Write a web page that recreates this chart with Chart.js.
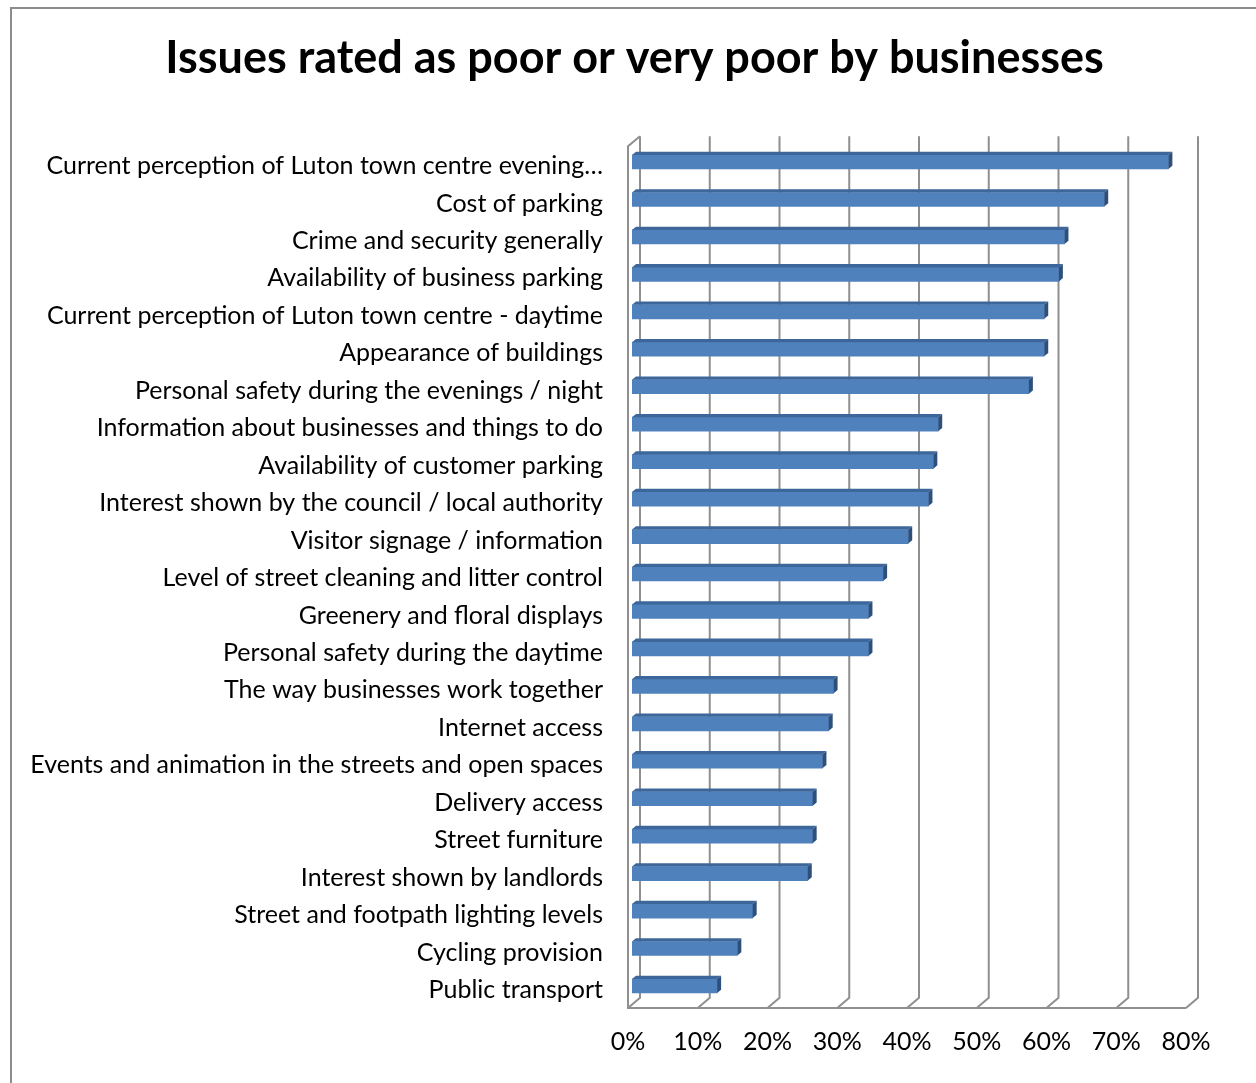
<!DOCTYPE html>
<html>
<head>
    <title>Issues rated as poor or very poor by businesses</title>
    <script src="https://cdn.jsdelivr.net/npm/chart.js"></script>
    <style>
        body {
            margin: 0;
            background: #fff;
            overflow: hidden;
        }
        #wrap {
            position: relative;
            width: 1256px;
            height: 1083px;
        }
        #frame {
            position: absolute;
            left: 10px;
            top: 7px;
            width: 1300px;
            height: 1200px;
            border: 2px solid #8c8c8c;
            pointer-events: none;
        }
    </style>
</head>
<body>
    <div id="wrap">
        <canvas id="issuesChart" width="1256" height="1083"></canvas>
        <div id="frame"></div>
    </div>

    <script>
    const issues = [
        'Current perception of Luton town centre evening\u2026',
        'Cost of parking',
        'Crime and security generally',
        'Availability of business parking',
        'Current perception of Luton town centre - daytime',
        'Appearance of buildings',
        'Personal safety during the evenings / night',
        'Information about businesses and things to do',
        'Availability of customer parking',
        'Interest shown by the council / local authority',
        'Visitor signage / information',
        'Level of street cleaning and litter control',
        'Greenery and floral displays',
        'Personal safety during the daytime',
        'The way businesses work together',
        'Internet access',
        'Events and animation in the streets and open spaces',
        'Delivery access',
        'Street furniture',
        'Interest shown by landlords',
        'Street and footpath lighting levels',
        'Cycling provision',
        'Public transport'
    ];
    // % of businesses rating each issue poor or very poor
    const poorShare = [76.9, 67.7, 62.0, 61.2, 59.1, 59.1, 56.9, 43.9, 43.2, 42.5, 39.6, 36.0,
                       33.9, 33.9, 28.9, 28.2, 27.3, 25.9, 25.9, 25.2, 17.3, 15.1, 12.2];
    const xTicks = [0, 10, 20, 30, 40, 50, 60, 70, 80];

    const fontFamily = 'Lato, "Noto Sans", sans-serif';

    // fake excel-style 3D: back wall gridlines, floor, bar top and end faces
    const threeD = {
        id: 'threeD',
        beforeDatasetsDraw(chart) {
            const { ctx, chartArea: a, scales: { x } } = chart;
            ctx.save();
            ctx.strokeStyle = '#8f8f8f';
            ctx.lineWidth = 2;
            ctx.beginPath();
            xTicks.forEach(v => {
                const px = x.getPixelForValue(v);
                ctx.moveTo(px + 8, a.top - 7);
                ctx.lineTo(px + 8, a.bottom - 7);
                ctx.lineTo(px - 4, a.bottom + 3.3);
            });
            const x0 = x.getPixelForValue(xTicks[0]) - 4;
            const x1 = x.getPixelForValue(xTicks[xTicks.length - 1]) - 4;
            ctx.moveTo(x0 + 12, a.top - 7);
            ctx.lineTo(x0, a.top + 3);
            ctx.lineTo(x0, a.bottom + 3.3);
            ctx.lineTo(x1, a.bottom + 3.3);
            ctx.stroke();
            ctx.restore();
        },
        afterDatasetsDraw(chart) {
            const ctx = chart.ctx;
            const dx = 4, dy = 3.3;
            ctx.save();
            chart.getDatasetMeta(0).data.forEach(bar => {
                const { x, y, base, height } = bar.getProps(['x', 'y', 'base', 'height'], true);
                const top = y - height / 2, bottom = y + height / 2;
                // top face
                ctx.fillStyle = '#3d679a';
                ctx.beginPath();
                ctx.moveTo(base, top);
                ctx.lineTo(base + dx, top - dy);
                ctx.lineTo(x + dx, top - dy);
                ctx.lineTo(x, top);
                ctx.closePath();
                ctx.fill();
                // end face
                ctx.fillStyle = '#2d4f7c';
                ctx.beginPath();
                ctx.moveTo(x, top);
                ctx.lineTo(x + dx, top - dy);
                ctx.lineTo(x + dx, bottom - dy);
                ctx.lineTo(x, bottom);
                ctx.closePath();
                ctx.fill();
            });
            ctx.restore();
        }
    };

    new Chart(document.getElementById('issuesChart'), {
        type: 'bar',
        data: {
            labels: issues,
            datasets: [{
                data: poorShare,
                backgroundColor: '#4f81bd',
                borderWidth: 0,
                barThickness: 14
            }]
        },
        options: {
            indexAxis: 'y',
            responsive: false,
            animation: false,
            layout: {
                padding: { left: 13, right: 0 }
            },
            plugins: {
                legend: { display: false },
                tooltip: { enabled: false },
                title: {
                    display: true,
                    text: 'Issues rated as poor or very poor by businesses',
                    color: '#000',
                    font: { family: fontFamily, size: 45, weight: 'bold' },
                    padding: { top: 31, bottom: 58.3 }
                }
            },
            scales: {
                x: {
                    min: 0,
                    max: 80,
                    grid: { display: false, drawTicks: false },
                    border: { display: false },
                    ticks: {
                        stepSize: 10,
                        color: '#000',
                        padding: 22.3,
                        labelOffset: -4,
                        font: { family: fontFamily, size: 25 },
                        callback: v => v + '%'
                    },
                    afterFit: s => { s.height = 78.3; }
                },
                y: {
                    grid: { display: false, drawTicks: false },
                    border: { display: false },
                    ticks: {
                        color: '#000',
                        padding: 29,
                        labelOffset: 4,
                        autoSkip: false,
                        font: { family: fontFamily, size: 25 }
                    },
                    afterFit: s => { s.width = 619; }
                },
                // empty right-hand axis, only keeps the plot clear of the right edge
                yRight: {
                    position: 'right',
                    grid: { display: false, drawTicks: false },
                    border: { display: false },
                    ticks: { display: false },
                    afterFit: s => { s.width = 66; }
                }
            }
        },
        plugins: [threeD]
    });
    </script>
</body>
</html>
